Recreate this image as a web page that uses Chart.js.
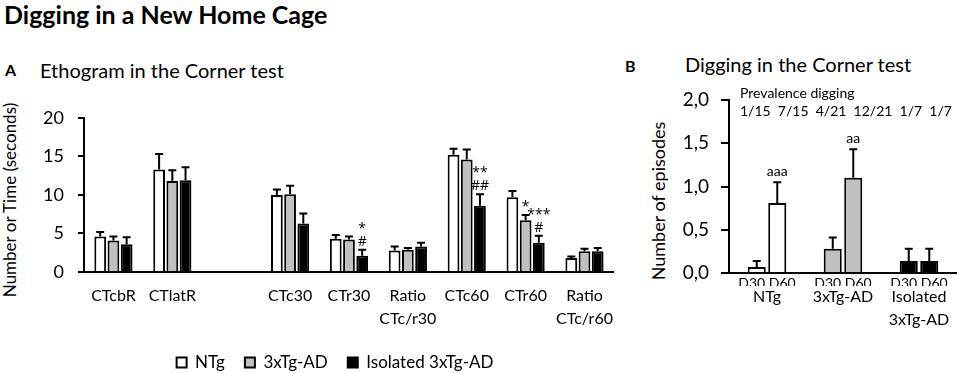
<!DOCTYPE html>
<html>
<head>
<meta charset="utf-8">
<script src="https://cdn.jsdelivr.net/npm/chart.js@4.4.1/dist/chart.umd.min.js"></script>
<style>
body{margin:0;width:957px;height:373px;background:#fff;position:relative;overflow:hidden;font-family:Lato,sans-serif;color:#000}
.t{position:absolute;white-space:nowrap;line-height:1}
.rot{text-align:center;transform:rotate(-90deg);width:240px;height:20px;line-height:20px}
#boxA{position:absolute;left:0;top:93px;width:626px;height:288px}
#boxB{position:absolute;left:650px;top:75px;width:307px;height:267px}
</style>
</head>
<body>
<div class="t" style="left:4px;top:2px;font-size:25px;font-weight:bold">Digging in a New Home Cage</div>
<div class="t" style="left:5px;top:62px;font-size:16px;font-weight:bold">A</div>
<div class="t" style="left:40px;top:60px;font-size:20px">Ethogram in the Corner test</div>
<div class="t" style="left:625px;top:58px;font-size:16px;font-weight:bold">B</div>
<div class="t" style="left:685px;top:54px;font-size:20px">Digging in the Corner test</div>
<div class="t rot" style="left:-110px;top:190px;font-size:17px">Number or Time (seconds)</div>
<div class="t rot" style="left:538px;top:191px;font-size:18px">Number of episodes</div>
<div id="boxA"><canvas id="chartA"></canvas></div>
<div id="boxB"><canvas id="chartB"></canvas></div>
<script>
// panel A: etograma, 3 grupos por medida (la categoria vacia hace el hueco)
const catsA = ['CTcbR', 'CTlatR', '', 'CTc30', 'CTr30', ['Ratio', 'CTc/r30'], 'CTc60', 'CTr60', ['Ratio', 'CTc/r60']];
const ntgA = [4.6, 13.3, null, 10.0, 4.3, 2.8, 15.2, 9.7, 1.8];
const ntgSemA = [0.6, 2.0, null, 0.7, 0.5, 0.5, 0.8, 0.8, 0.2];
const tgA = [4.1, 11.8, null, 10.1, 4.2, 2.9, 14.6, 6.7, 2.7];
const tgSemA = [0.5, 1.4, null, 1.1, 0.4, 0.2, 1.3, 0.7, 0.3];
const isoA = [3.6, 11.9, null, 6.3, 2.1, 3.3, 8.6, 3.8, 2.7];
const isoSemA = [0.9, 1.7, null, 1.3, 0.8, 0.5, 1.5, 0.9, 0.4];
const tgMarksA = [null, null, null, null, null, null, null, ['*'], null];
const isoMarksA = [null, null, null, null, ['*', '#'], null, ['**', '##'], ['***', '#'], null];
const ticksA = [0, 5, 10, 15, 20];

// panel B: episodios de excavar D30 / D60
const groupsB = ['NTg', '3xTg-AD', ['Isolated', '3xTg-AD']];
const daysB = ['D30 D60', 'D30 D60', 'D30 D60'];
const d30B = [0.07, 0.28, 0.14];
const d30SemB = [0.07, 0.13, 0.14];
const d60B = [0.81, 1.10, 0.14];
const d60SemB = [0.24, 0.33, 0.14];
const d60MarksB = [['aaa'], ['aa'], null];
const prevD30B = ['1/15', '4/21', '1/7'];
const prevD60B = ['7/15', '12/21', '1/7'];
const ticksB = ['0,0', '0,5', '1,0', '1,5', '2,0'];

const WHITE = '#ffffff', GREY = '#c0c0c0', BLACK = '#000000';

Chart.defaults.font.family = 'Lato';
Chart.defaults.color = '#000';

// barras de error (solo hacia arriba) y asteriscos
const errorBars = {
    id: 'errorBars',
    afterDatasetsDraw(chart, args, opts) {
        const ctx = chart.ctx;
        const y = chart.scales.y;
        chart.data.datasets.forEach((ds, i) => {
            const meta = chart.getDatasetMeta(i);
            meta.data.forEach((bar, j) => {
                const v = ds.data[j];
                if (v == null) return;
                const top = y.getPixelForValue(v + ds.sem[j]);
                ctx.save();
                ctx.strokeStyle = '#000';
                ctx.lineWidth = 2;
                ctx.beginPath();
                ctx.moveTo(bar.x, bar.y);
                ctx.lineTo(bar.x, top);
                ctx.moveTo(bar.x - 4, top);
                ctx.lineTo(bar.x + 4, top);
                ctx.stroke();
                const marks = ds.marks && ds.marks[j];
                if (marks) {
                    ctx.fillStyle = '#000';
                    ctx.font = opts.font;
                    ctx.textAlign = 'center';
                    ctx.textBaseline = opts.baseline;
                    marks.slice().reverse().forEach((m, k) => {
                        ctx.fillText(m, bar.x, top - opts.gap - k * 13);
                    });
                }
                ctx.restore();
            });
        });
    }
};

new Chart(document.getElementById('chartA'), {
    type: 'bar',
    data: {
        labels: catsA,
        datasets: [
            { label: 'NTg', data: ntgA, sem: ntgSemA, backgroundColor: WHITE },
            { label: '3xTg-AD', data: tgA, sem: tgSemA, marks: tgMarksA, backgroundColor: GREY },
            { label: 'Isolated 3xTg-AD', data: isoA, sem: isoSemA, marks: isoMarksA, backgroundColor: BLACK }
        ]
    },
    options: {
        responsive: true,
        maintainAspectRatio: false,
        animation: false,
        layout: { padding: { top: 11, right: 0, left: 44, bottom: 0 } },
        datasets: {
            bar: { borderColor: '#000', borderWidth: 2, categoryPercentage: 0.673, barPercentage: 0.89 }
        },
        scales: {
            x: {
                grid: { display: false, drawTicks: false },
                border: { display: true, color: '#000', width: 2 },
                ticks: { font: { size: 16, lineHeight: 1.4 }, padding: 13, maxRotation: 0, autoSkip: false },
                afterFit(s) { s.height = 62; }
            },
            y: {
                min: 0,
                max: 20,
                afterBuildTicks(s) { s.ticks = ticksA.map(v => ({ value: v })); },
                ticks: { font: { size: 18 }, padding: 14 },
                grid: { drawOnChartArea: false, color: '#000', lineWidth: 2, tickLength: 6 },
                border: { display: true, color: '#000', width: 2 },
                afterFit(s) { s.width = 40; }
            }
        },
        plugins: {
            legend: {
                position: 'bottom',
                labels: { boxWidth: 10, boxHeight: 10, padding: 20, font: { size: 17 } }
            },
            tooltip: { enabled: false },
            errorBars: { font: '14px "Open Sans"', baseline: 'middle', gap: 8 }
        }
    },
    plugins: [errorBars]
});

// prevalencia encima del panel B
const prevalence = {
    id: 'prevalence',
    afterDraw(chart) {
        const ctx = chart.ctx;
        const a = chart.chartArea;
        const fracs = [];
        prevD30B.forEach((p, i) => fracs.push(p, prevD60B[i]));
        ctx.save();
        ctx.fillStyle = '#000';
        ctx.textBaseline = 'middle';
        ctx.textAlign = 'left';
        ctx.font = '14px Lato';
        ctx.fillText('Prevalence digging', a.left + 11, a.top - 7);
        ctx.fillText(fracs.join('  '), a.left + 11, a.top + 11);
        ctx.restore();
    }
};

new Chart(document.getElementById('chartB'), {
    type: 'bar',
    data: {
        labels: daysB,
        datasets: [
            { label: 'D30', data: d30B, sem: d30SemB, backgroundColor: [WHITE, GREY, BLACK] },
            { label: 'D60', data: d60B, sem: d60SemB, marks: d60MarksB, backgroundColor: [WHITE, GREY, BLACK] }
        ]
    },
    options: {
        responsive: true,
        maintainAspectRatio: false,
        animation: false,
        layout: { padding: { top: 25, right: 0, left: 0, bottom: 0 } },
        datasets: {
            bar: { borderColor: '#000', borderWidth: 2, categoryPercentage: 0.54, barPercentage: 0.88 }
        },
        scales: {
            x: {
                weight: 0,
                grid: { display: false, drawTicks: false },
                border: { display: true, color: '#000', width: 2 },
                ticks: { font: { size: 14 }, padding: 2, maxRotation: 0, autoSkip: false },
                afterFit(s) { s.height = 13; }
            },
            x2: {
                type: 'category',
                position: 'bottom',
                weight: 1,
                labels: groupsB,
                grid: { display: false, drawTicks: false },
                border: { display: false },
                ticks: { font: { size: 16, lineHeight: 1.4 }, padding: 0, maxRotation: 0, autoSkip: false },
                afterFit(s) { s.height = 56; }
            },
            y: {
                min: 0,
                max: 2,
                ticks: { stepSize: 0.5, font: { size: 19 }, padding: 12, callback: (v, i) => ticksB[i] },
                grid: { drawOnChartArea: false, color: '#000', lineWidth: 2, tickLength: 8 },
                border: { display: true, color: '#000', width: 2 },
                afterFit(s) { s.width = 79; }
            }
        },
        plugins: {
            legend: { display: false },
            tooltip: { enabled: false },
            errorBars: { font: '14px Lato', baseline: 'alphabetic', gap: 6 }
        }
    },
    plugins: [errorBars, prevalence]
});
</script>
</body>
</html>
